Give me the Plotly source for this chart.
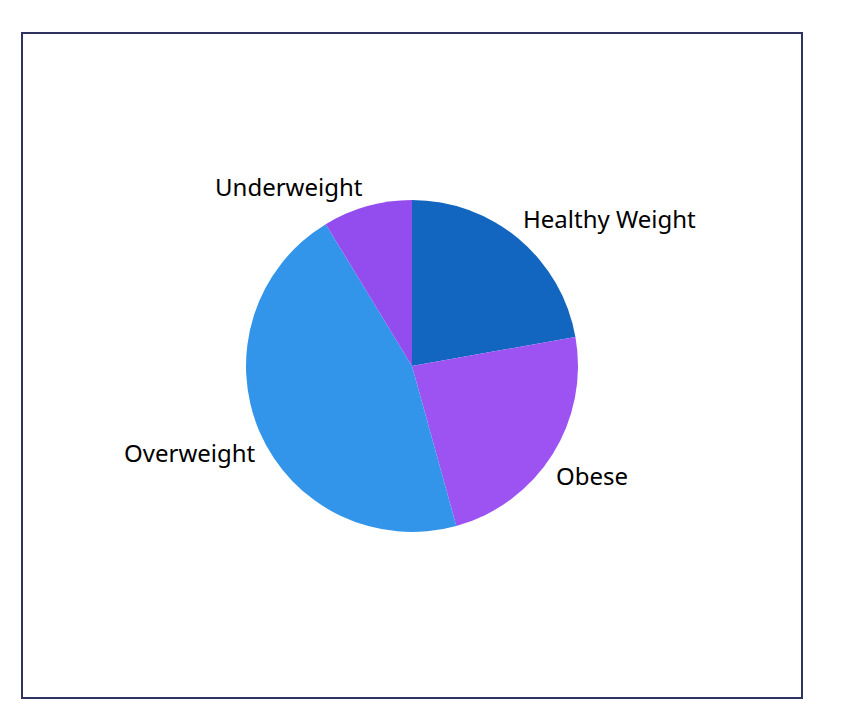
import math
import plotly.graph_objects as go

categories = ["Healthy Weight", "Obese", "Overweight", "Underweight"]
shares = [22.2, 23.5, 45.6, 8.7]
colors = ["#1366C0", "#9D52F2", "#3395EA", "#934DEF"]

W, H = 842, 722
cx, cy, r = 412, 366, 166

fig = go.Figure(go.Pie(
    labels=categories,
    values=shares,
    sort=False,
    direction="clockwise",
    rotation=0,
    marker=dict(colors=colors, line=dict(width=0)),
    textinfo="none",
    showlegend=False,
    hoverinfo="label+percent",
    domain=dict(x=[(cx - r) / W, (cx + r) / W], y=[1 - (cy + r) / H, 1 - (cy - r) / H]),
))

# labels outside each slice, at the slice's mid angle
total = sum(shares)
acc = 0.0
for name, v in zip(categories, shares):
    mid = (acc + v / 2) / total * 2 * math.pi
    acc += v
    px = cx + r * math.sin(mid)
    py = cy - r * math.cos(mid)
    right = math.sin(mid) >= 0
    upper = math.cos(mid) >= 0
    fig.add_annotation(
        x=px / W, y=1 - py / H, xref="paper", yref="paper",
        text=name, showarrow=False,
        xanchor="left" if right else "right", yanchor="middle",
        xshift=2 if right else -2, yshift=20 if upper else -21,
        font=dict(family="Noto Sans", size=24, color="#000000"),
    )

fig.add_shape(type="rect", xref="paper", yref="paper",
              x0=22 / W, x1=802 / W, y0=1 - 698 / H, y1=1 - 33 / H,
              line=dict(color="#2E3461", width=2), fillcolor="rgba(0,0,0,0)")

fig.update_layout(
    width=W, height=H,
    margin=dict(l=0, r=0, t=0, b=0),
    paper_bgcolor="white", plot_bgcolor="white",
    font=dict(family="Noto Sans"),
)

fig.write_html("out.html")
